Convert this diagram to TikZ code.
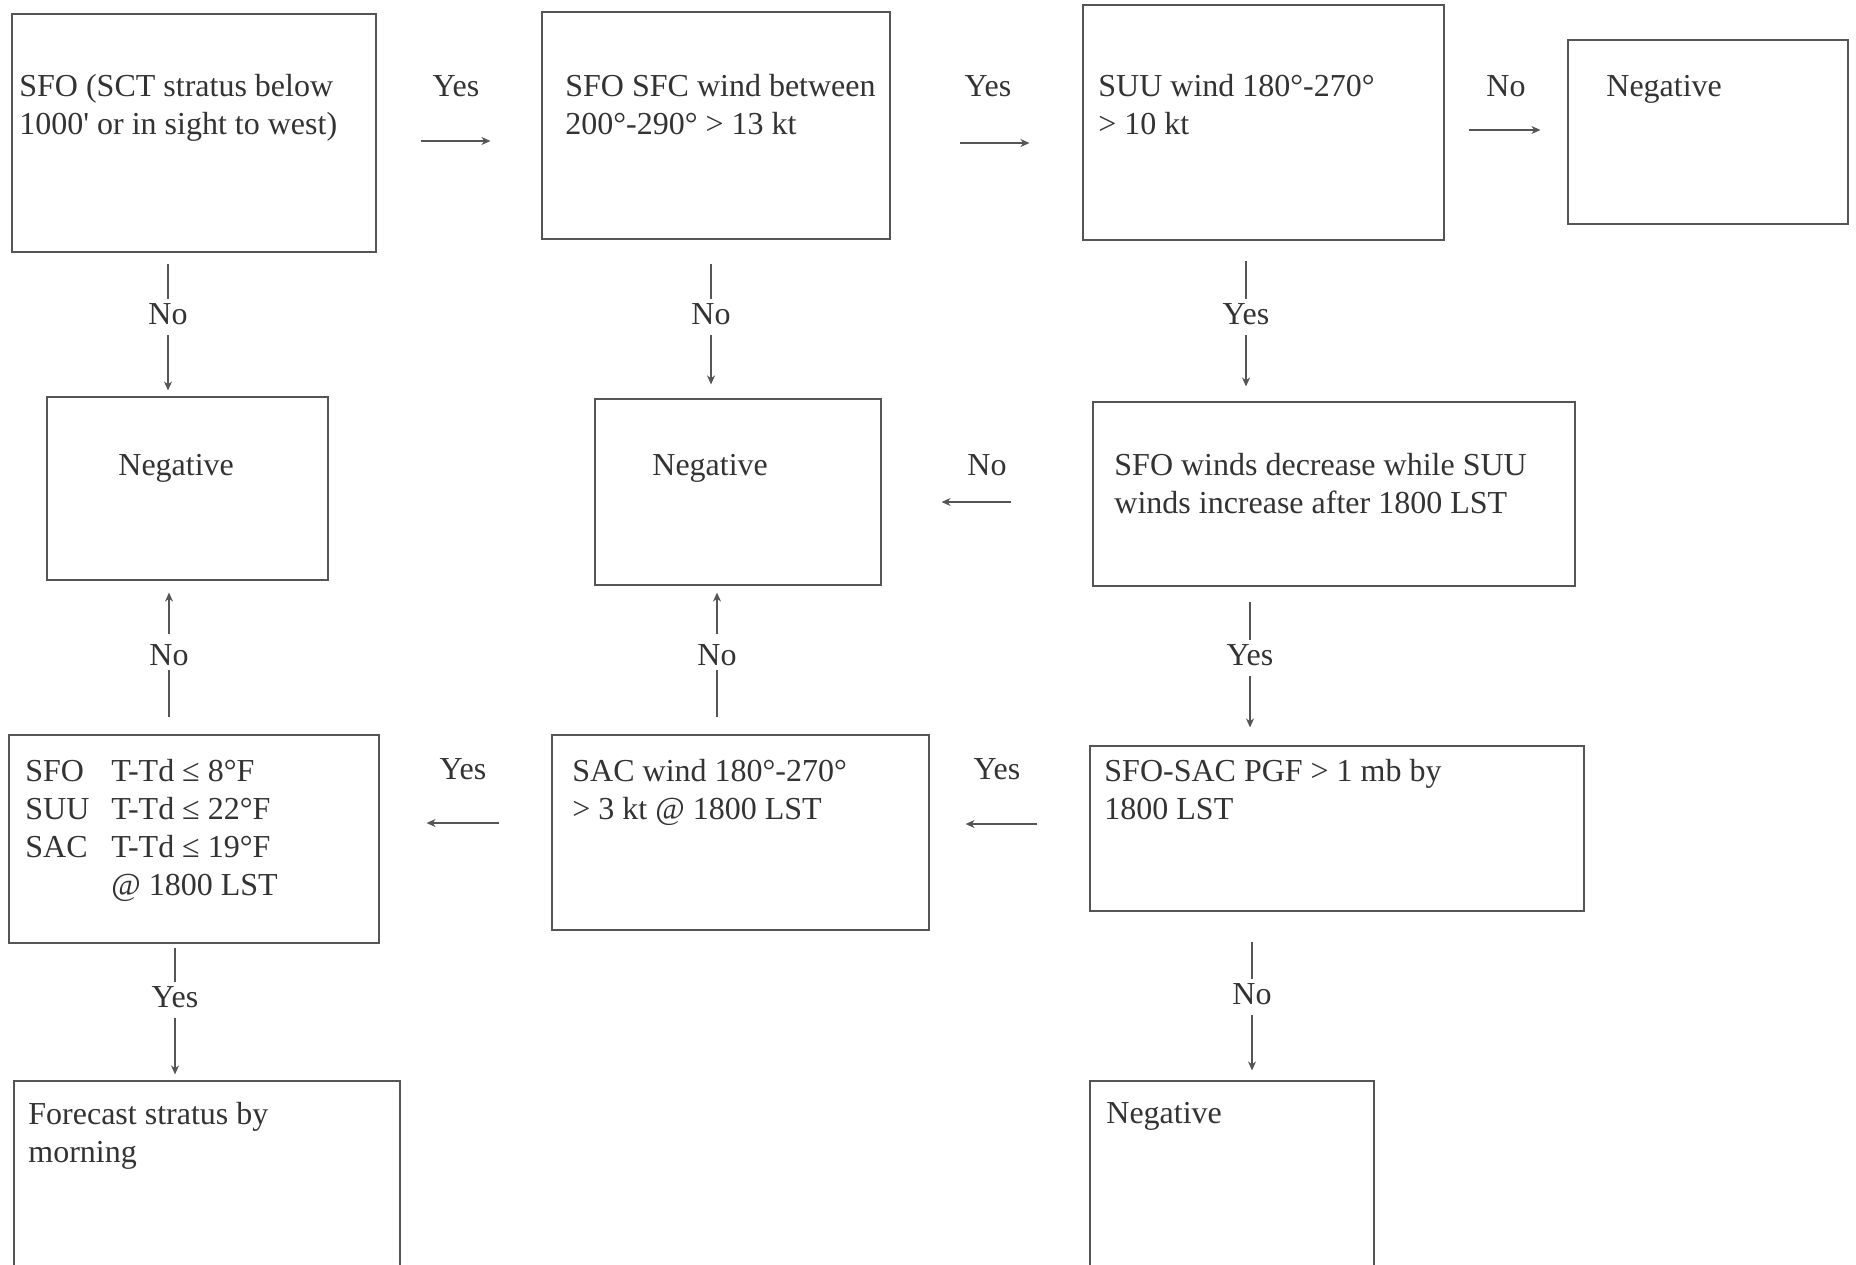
\documentclass[tikz,border=0pt]{standalone}
\usepackage{fontspec}
\newfontfamily\tf{Liberation Serif}
\usetikzlibrary{arrows.meta}
\definecolor{ink}{HTML}{333333}
\definecolor{edge}{HTML}{555555}
\begin{document}
\begin{tikzpicture}[x=0.5pt,y=-0.5pt,
  box/.style={draw=edge,line width=0.6pt,inner sep=0pt},
  txt/.style={font=\fontsize{16}{19}\selectfont\tf,text=ink,align=left,anchor=base west,inner sep=0pt},
  lbl/.style={font=\fontsize{16}{19}\selectfont\tf,text=ink,inner sep=2pt},
  ln/.style={draw=edge,line width=0.6pt},
  arr/.style={ln,-{Stealth[length=4.5pt,width=4pt]}}]
\useasboundingbox (0,0) rectangle (1856,1264);
\fill[white] (0,0) rectangle (1856,1264);
\clip (0,0) rectangle (1856,1264);

% boxes
\node[box,minimum width=182pt,minimum height=119pt] (A) at (194,133) {};
\node[box,minimum width=174pt,minimum height=113.5pt] (B) at (716,125.5) {};
\node[box,minimum width=180.5pt,minimum height=117.5pt] (C) at (1263.5,122.5) {};
\node[box,minimum width=140pt,minimum height=92pt] (D) at (1708,132) {};
\node[box,minimum width=140.5pt,minimum height=91.5pt] (E) at (187.5,488.5) {};
\node[box,minimum width=143pt,minimum height=93pt] (F) at (738,492) {};
\node[box,minimum width=241pt,minimum height=92pt] (G) at (1334,494) {};
\node[box,minimum width=185pt,minimum height=104pt] (H) at (194,839) {};
\node[box,minimum width=188.5pt,minimum height=97.5pt] (I) at (740.5,832.5) {};
\node[box,minimum width=247pt,minimum height=82.5pt] (J) at (1337,828.5) {};
\node[box,minimum width=193pt,minimum height=109pt] (K) at (207,1190) {};
\node[box,minimum width=142pt,minimum height=109pt] (L) at (1232,1190) {};

% texts (base anchor = baseline of last line)
\node[txt] (tA) at (19,134) {SFO (SCT stratus below\\1000' or in sight to west)};
\node[txt] (tB) at (565,134) {SFO SFC wind between\\200°-290° > 13 kt};
\node[txt] (tC) at (1098,134) {SUU wind 180°-270°\\> 10 kt};
\node[txt] (tD) at (1606,96) {Negative};
\node[txt] (tE) at (118,475) {Negative};
\node[txt] (tF) at (652,475) {Negative};
\node[txt] (tG) at (1114,513) {SFO winds decrease while SUU\\winds increase after 1800 LST};
\node[txt] (tH1) at (25,857) {SFO\\SUU\\SAC};
\node[txt] (tH2) at (111,895) {T-Td ≤ 8°F\\T-Td ≤ 22°F\\T-Td ≤ 19°F\\@ 1800 LST};
\node[txt] (tI) at (572,819) {SAC wind 180°-270°\\> 3 kt @ 1800 LST};
\node[txt] (tJ) at (1104,819) {SFO-SAC PGF > 1 mb by\\1800 LST};
\node[txt] (tK) at (28,1162) {Forecast stratus by\\morning};
\node[txt] (tL) at (1106,1123) {Negative};

% horizontal labels
\node[lbl] (y1) at (456,86) {Yes};
\node[lbl] (y2) at (988,86) {Yes};
\node[lbl] (n3) at (1506,86) {No};
\node[lbl] (n4) at (987,465) {No};
\node[lbl] (y5) at (997,769) {Yes};
\node[lbl] (y6) at (463,769) {Yes};
% vertical labels
\node[lbl] (n6) at (168,314) {No};
\node[lbl] (n7) at (711,314) {No};
\node[lbl] (y8) at (1246,314) {Yes};
\node[lbl] (y9) at (1250,655) {Yes};
\node[lbl] (n10) at (169,655) {No};
\node[lbl] (n11) at (717,655) {No};
\node[lbl] (y12) at (175,997) {Yes};
\node[lbl] (n13) at (1252,994) {No};

% horizontal arrows
\draw[arr,shorten <=22pt,shorten >=25.5pt] (A.east |- 0,141) -- (B.west |- 0,141);
\draw[arr,shorten <=34.5pt,shorten >=26.5pt] (B.east |- 0,143) -- (C.west |- 0,143);
\draw[arr,shorten <=12pt,shorten >=13.5pt] (C.east |- 0,130) -- (D.west |- 0,130);
\draw[arr,shorten <=40.5pt,shorten >=30pt] (G.west |- 0,502) -- (F.east |- 0,502);
\draw[arr,shorten <=26pt,shorten >=18pt] (J.west |- 0,824) -- (I.east |- 0,824);
\draw[arr,shorten <=26pt,shorten >=23.5pt] (I.west |- 0,823) -- (H.east |- 0,823);

% vertical connectors (downward)
\draw[ln,shorten <=5.5pt] (A.south -| n6) -- (n6.north);
\draw[arr,shorten <=3pt,shorten >=3pt] (n6.south) -- (E.north -| n6);
\draw[ln,shorten <=12pt] (B.south -| n7) -- (n7.north);
\draw[arr,shorten <=3pt,shorten >=7pt] (n7.south) -- (F.north -| n7);
\draw[ln,shorten <=10pt] (C.south -| y8) -- (y8.north);
\draw[arr,shorten <=3pt,shorten >=7.5pt] (y8.south) -- (G.north -| y8);
\draw[ln,shorten <=7.5pt] (G.south -| y9) -- (y9.north);
\draw[arr,shorten <=3pt,shorten >=9pt] (y9.south) -- (J.north -| y9);
\draw[ln,shorten <=2pt] (H.south -| y12) -- (y12.north);
\draw[arr,shorten <=3pt,shorten >=3pt] (y12.south) -- (K.north -| y12);
\draw[ln,shorten <=15pt] (J.south -| n13) -- (n13.north);
\draw[arr,shorten <=3pt,shorten >=5pt] (n13.south) -- (L.north -| n13);
% vertical connectors (upward)
\draw[ln,shorten <=8.5pt] (H.north -| n10) -- (n10.south);
\draw[arr,shorten <=3pt,shorten >=6pt] (n10.north) -- (E.south -| n10);
\draw[ln,shorten <=8.5pt] (I.north -| n11) -- (n11.south);
\draw[arr,shorten <=3pt,shorten >=3.5pt] (n11.north) -- (F.south -| n11);
\end{tikzpicture}
\end{document}
